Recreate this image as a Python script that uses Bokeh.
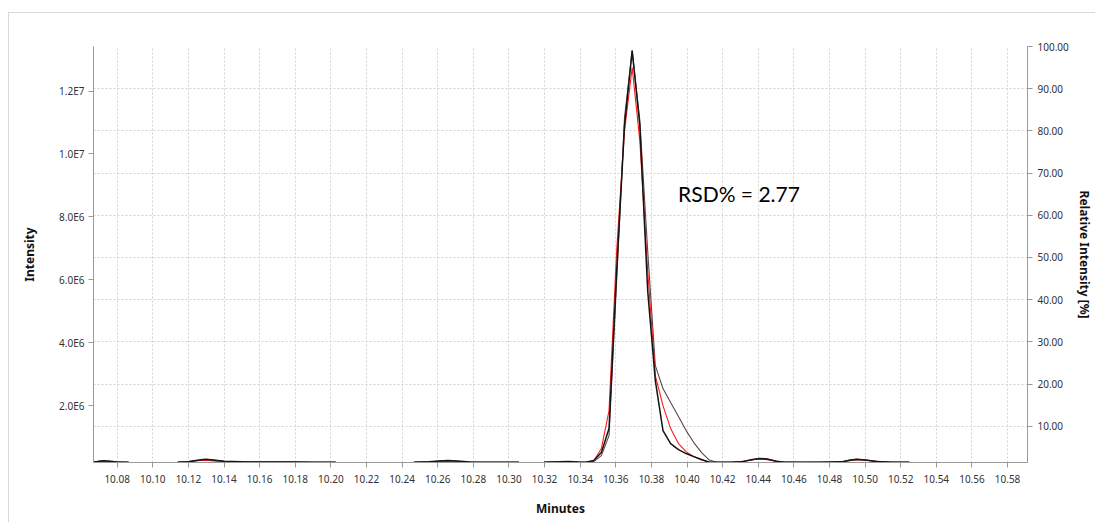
from bokeh.plotting import figure
from bokeh.models import (Range1d, LinearAxis, FixedTicker, PrintfTickFormatter,
                          CustomJSTickFormatter, Grid, Label)
from bokeh.embed import file_html
from bokeh.resources import INLINE

nan = float("nan")

# ---- data (retention time in minutes, intensity in counts) ----
t_black = [10.0667, 10.0700, 10.0723, 10.0760, 10.0800, 10.0864, nan,
           10.1139, 10.1200, 10.1250, 10.1297, 10.1340, 10.1400, 10.1500, 10.1600, 10.1700, 10.1800, 10.1900, 10.2028, nan,
           10.2466, 10.2550, 10.2610, 10.2657, 10.2710, 10.2780, 10.2900, 10.3056, nan,
           10.3197, 10.3280, 10.3337, 10.3390,
           10.3432, 10.3476, 10.3519, 10.3562, 10.3605, 10.3649, 10.3692, 10.3735, 10.3779, 10.3822,
           10.3865, 10.3908, 10.3952, 10.3995, 10.4038, 10.4082, 10.4125, 10.4168,
           10.4250, 10.4305, 10.4360, 10.4406, 10.4450, 10.4500, 10.4546, 10.4642, 10.4750, 10.4867,
           10.4920, 10.4951, 10.5000, 10.5064, 10.5150, 10.5249]
i_black = [0.200e6, 0.230e6, 0.245e6, 0.230e6, 0.205e6, 0.197e6, nan,
           0.197e6, 0.215e6, 0.260e6, 0.290e6, 0.270e6, 0.230e6, 0.210e6, 0.205e6, 0.205e6, 0.205e6, 0.200e6, 0.197e6, nan,
           0.197e6, 0.210e6, 0.240e6, 0.250e6, 0.240e6, 0.205e6, 0.197e6, 0.197e6, nan,
           0.197e6, 0.210e6, 0.225e6, 0.205e6,
           0.197e6, 0.251e6, 0.506e6, 1.269e6, 6.293e6, 10.903e6, 13.288e6, 10.903e6, 5.657e6, 2.795e6,
           1.205e6, 0.792e6, 0.601e6, 0.474e6, 0.378e6, 0.283e6, 0.197e6, 0.197e6,
           0.197e6, 0.210e6, 0.280e6, 0.320e6, 0.300e6, 0.230e6, 0.200e6, 0.197e6, 0.197e6, 0.210e6,
           0.270e6, 0.290e6, 0.270e6, 0.220e6, 0.200e6, 0.197e6]

t_gray = [10.0667, 10.0710, 10.0740, 10.0780, 10.0864, nan,
          10.1139, 10.1220, 10.1280, 10.1330, 10.1400, 10.1600, 10.1800, 10.2028, nan,
          10.2466, 10.2560, 10.2640, 10.2700, 10.2800, 10.3056, nan,
          10.3197, 10.3300, 10.3390,
          10.3432, 10.3476, 10.3519, 10.3562, 10.3605, 10.3649, 10.3692, 10.3735, 10.3779, 10.3822,
          10.3865, 10.3908, 10.3952, 10.3995, 10.4038, 10.4082, 10.4125, 10.4168,
          10.4250, 10.4320, 10.4390, 10.4440, 10.4500, 10.4550, 10.4700, 10.4870,
          10.4930, 10.4980, 10.5050, 10.5150, 10.5249]
i_gray = [0.205e6, 0.235e6, 0.240e6, 0.215e6, 0.197e6, nan,
          0.197e6, 0.225e6, 0.275e6, 0.265e6, 0.225e6, 0.205e6, 0.200e6, 0.197e6, nan,
          0.197e6, 0.215e6, 0.245e6, 0.230e6, 0.200e6, 0.197e6, nan,
          0.197e6, 0.215e6, 0.200e6,
          0.197e6, 0.219e6, 0.410e6, 1.046e6, 5.975e6, 11.158e6, 13.288e6, 11.062e6, 6.929e6, 3.272e6,
          2.541e6, 2.095e6, 1.650e6, 1.205e6, 0.824e6, 0.506e6, 0.267e6, 0.197e6,
          0.197e6, 0.230e6, 0.300e6, 0.310e6, 0.240e6, 0.200e6, 0.197e6, 0.205e6,
          0.265e6, 0.280e6, 0.240e6, 0.200e6, 0.197e6]

t_red = [10.0667, 10.0740, 10.0864, nan,
         10.1139, 10.1200, 10.1250, 10.1297, 10.1340, 10.1400, 10.1500, 10.1700, 10.1900, 10.2028, nan,
         10.2466, 10.2580, 10.2650, 10.2720, 10.2850, 10.3056, nan,
         10.3197, 10.3310, 10.3390,
         10.3432, 10.3476, 10.3519, 10.3562, 10.3605, 10.3649, 10.3692, 10.3735, 10.3779, 10.3822,
         10.3865, 10.3908, 10.3952, 10.3995, 10.4038, 10.4082, 10.4125, 10.4168,
         10.4250, 10.4330, 10.4400, 10.4450, 10.4520, 10.4650, 10.4870,
         10.4920, 10.4960, 10.5010, 10.5080, 10.5249]
i_red = [0.197e6, 0.215e6, 0.197e6, nan,
         0.197e6, 0.220e6, 0.250e6, 0.260e6, 0.240e6, 0.220e6, 0.210e6, 0.210e6, 0.200e6, 0.197e6, nan,
         0.197e6, 0.220e6, 0.235e6, 0.215e6, 0.200e6, 0.197e6, nan,
         0.197e6, 0.220e6, 0.205e6,
         0.197e6, 0.235e6, 0.633e6, 1.841e6, 6.929e6, 10.744e6, 12.747e6, 10.426e6, 6.293e6, 2.954e6,
         2.000e6, 1.269e6, 0.792e6, 0.537e6, 0.378e6, 0.267e6, 0.203e6, 0.197e6,
         0.197e6, 0.240e6, 0.300e6, 0.280e6, 0.215e6, 0.197e6, 0.215e6,
         0.275e6, 0.290e6, 0.260e6, 0.210e6, 0.197e6]

x_ticks = [10.08, 10.10, 10.12, 10.14, 10.16, 10.18, 10.20, 10.22, 10.24, 10.26, 10.28, 10.30,
           10.32, 10.34, 10.36, 10.38, 10.40, 10.42, 10.44, 10.46, 10.48, 10.50, 10.52, 10.54,
           10.56, 10.58]
left_ticks = [2e6, 4e6, 6e6, 8e6, 10e6, 12e6]
right_ticks = [10, 20, 30, 40, 50, 60, 70, 80, 90, 100]
I_MAX = 1.3418e7          # intensity equal to 100 % relative intensity
annotation = "RSD% = 2.77"

# ---- figure ----
FONT = "Noto Sans"
x_lo, x_hi = 10.0667, 10.5912
y_lo, y_hi = 0.19e6, I_MAX

p = figure(width=1095, height=522, output_backend="svg", toolbar_location=None,
           x_range=Range1d(x_lo, x_hi), y_range=Range1d(y_lo, y_hi),
           min_border_left=93, min_border_top=46, min_border_right=61, min_border_bottom=60)
p.extra_y_ranges = {"pct": Range1d(y_lo / I_MAX * 100, y_hi / I_MAX * 100)}
p.outline_line_color = None
p.background_fill_color = "white"
p.border_fill_color = "white"
p.border_fill_alpha = 0
# faint panel border (left and top edges) drawn behind the transparent canvas border
p.styles = {
    "background": ("linear-gradient(#d8d8d8, #d8d8d8) 8px 12px / 1px 100% no-repeat, "
                   "linear-gradient(#d8d8d8, #d8d8d8) 8px 12px / 100% 1px no-repeat, white"),
}

axis_col = "#9a9a9a"
lab_col = "#333333"

def style_axis(ax):
    ax.axis_line_color = axis_col
    ax.major_tick_line_color = axis_col
    ax.minor_tick_line_color = None
    ax.major_tick_out = 5
    ax.major_tick_in = 0
    ax.major_label_text_font = FONT
    ax.major_label_text_font_size = "10px"
    ax.major_label_text_color = lab_col
    ax.axis_label_text_font = FONT
    ax.axis_label_text_font_size = "12px"
    ax.axis_label_text_font_style = "bold"
    ax.axis_label_text_color = "#111111"

xa = p.xaxis[0]
xa.ticker = FixedTicker(ticks=x_ticks)
xa.formatter = PrintfTickFormatter(format="%.2f")
xa.axis_label = "Minutes"
style_axis(xa)
xa.major_label_standoff = 7
xa.axis_label_standoff = 14

ya = p.yaxis[0]
ya.ticker = FixedTicker(ticks=left_ticks)
ya.formatter = CustomJSTickFormatter(code="return tick.toExponential(1).replace('e+', 'E');")
ya.axis_label = "Intensity"
style_axis(ya)
ya.major_label_standoff = 4
ya.axis_label_standoff = 18

ra = LinearAxis(y_range_name="pct", ticker=FixedTicker(ticks=right_ticks),
                formatter=PrintfTickFormatter(format="%.2f"),
                axis_label="Relative Intensity [%]")
style_axis(ra)
ra.major_label_standoff = 5
ra.axis_label_standoff = 4
p.add_layout(ra, "right")

# grids: vertical at x ticks, horizontal at relative-intensity ticks
p.xgrid.grid_line_color = "#d4d4d4"
p.xgrid.grid_line_dash = "2 2"
p.ygrid.visible = False
hg = Grid(dimension=1, ticker=FixedTicker(ticks=right_ticks[:-1]), y_range_name="pct",
          grid_line_color="#d4d4d4", grid_line_dash="2 2")
p.add_layout(hg)

# traces
p.line(t_gray, i_gray, line_color="#5c4646", line_width=1.1)
p.line(t_red, i_red, line_color="#ff1a1a", line_width=1.1)
p.line(t_black, i_black, line_color="#141414", line_width=1.5)

# annotation
p.add_layout(Label(x=10.395, y=65.2, y_range_name="pct", text=annotation,
                   text_font="Lato", text_font_size="21px", text_color="#000000",
                   text_baseline="middle", text_align="left"))

open("out.html", "w").write(file_html(p, INLINE))
